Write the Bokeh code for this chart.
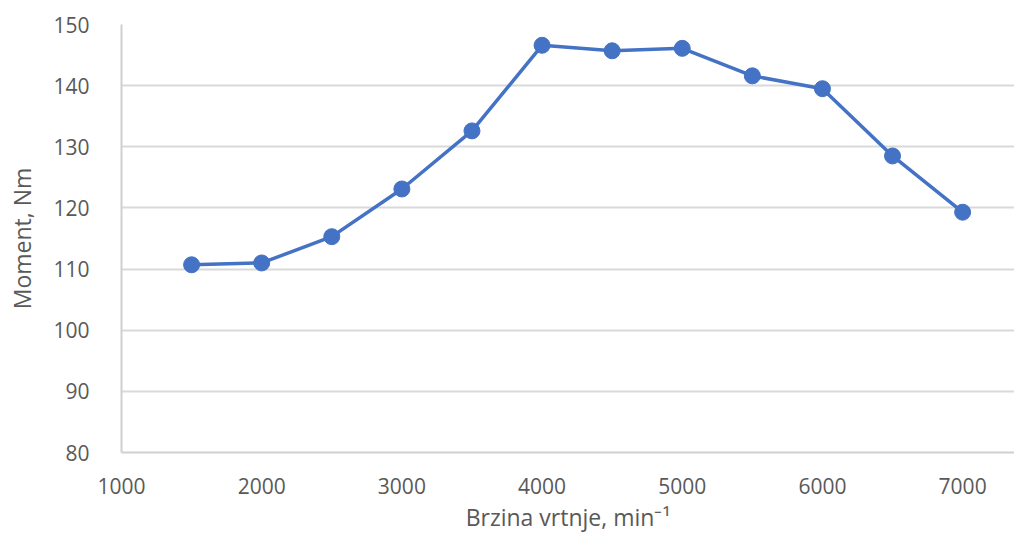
from bokeh.plotting import figure
from bokeh.models import Range1d, FixedTicker
from bokeh.embed import file_html
from bokeh.resources import INLINE

speed = [1500, 2000, 2500, 3000, 3500, 4000, 4500, 5000, 5500, 6000, 6500, 7000]
torque = [110.7, 111.0, 115.3, 123.1, 132.6, 146.6, 145.7, 146.1, 141.6, 139.5, 128.5, 119.3]
x_ticks = [1000, 2000, 3000, 4000, 5000, 6000, 7000]
y_ticks = [80, 90, 100, 110, 120, 130, 140, 150]

FONT = "Open Sans"
TXT = "#595959"
BLUE = "#4472C4"

p = figure(width=1014, height=535, output_backend="svg", toolbar_location=None,
           x_range=Range1d(1000, 7370), y_range=Range1d(80, 150),
           min_border_left=121, min_border_right=0, min_border_top=24, min_border_bottom=82)
p.outline_line_color = None
p.background_fill_color = "white"
p.border_fill_color = "white"

p.xgrid.visible = False
p.ygrid.grid_line_color = "#d9d9d9"
p.ygrid.grid_line_width = 2
p.xaxis.ticker = FixedTicker(ticks=x_ticks)
p.yaxis.ticker = FixedTicker(ticks=y_ticks)

for ax in (p.xaxis, p.yaxis):
    ax.major_tick_line_color = None
    ax.minor_tick_line_color = None
    ax.axis_line_color = "#d0d0d0"
    ax.axis_line_width = 2
    ax.major_label_text_font = FONT
    ax.major_label_text_font_size = "21px"
    ax.major_label_text_color = TXT
    ax.axis_label_text_font = FONT
    ax.axis_label_text_font_size = "23px"
    ax.axis_label_text_font_style = "normal"
    ax.axis_label_text_color = TXT

p.xaxis.major_label_standoff = 19
p.yaxis.major_label_standoff = 26
p.xaxis.axis_label = "Brzina vrtnje, min⁻¹"
p.yaxis.axis_label = "Moment, Nm"
p.xaxis.axis_label_standoff = 4
p.yaxis.axis_label_standoff = 12

p.line(speed, torque, line_color=BLUE, line_width=3.5)
p.scatter(speed, torque, size=16, fill_color=BLUE, line_color=BLUE)

open("out.html", "w").write(file_html(p, INLINE))
